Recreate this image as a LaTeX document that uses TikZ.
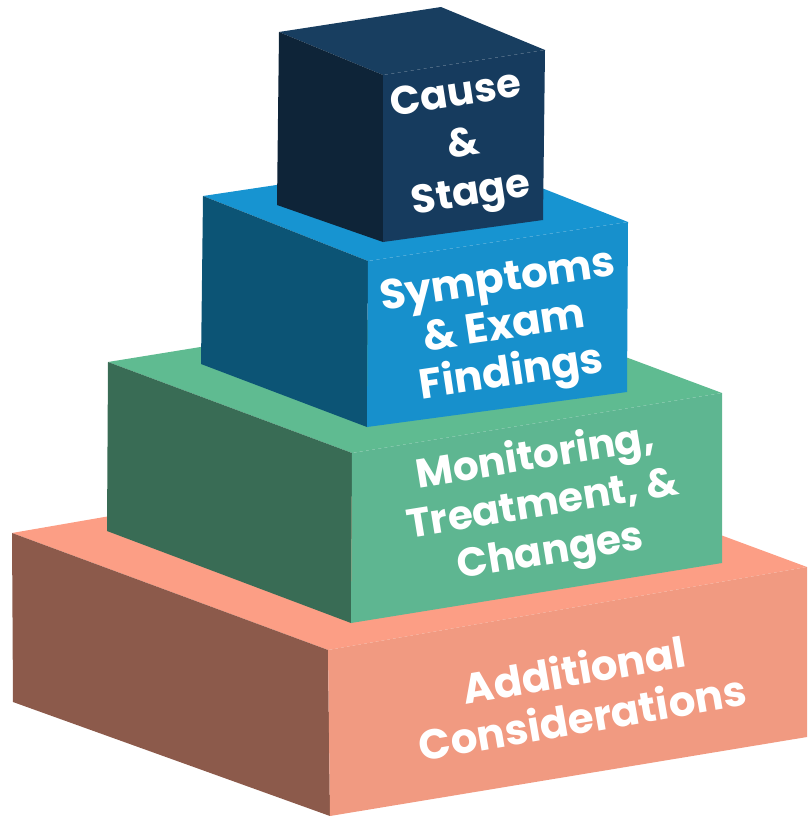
\documentclass[tikz,border=0pt]{standalone}
\usepackage{fontspec}
\setmainfont{Poppins}
\begin{document}
\begin{tikzpicture}[x=1pt,y=-1pt,
  lbl/.style={text=white,align=center,inner sep=0pt}]
\definecolor{salTop}{HTML}{FC9E85}
\definecolor{salFront}{HTML}{F19A81}
\definecolor{salLeft}{HTML}{8C5A4B}
\definecolor{grnTop}{HTML}{5FBB91}
\definecolor{grnFront}{HTML}{5EB691}
\definecolor{grnLeft}{HTML}{396C55}
\definecolor{bluTop}{HTML}{1794D1}
\definecolor{bluFront}{HTML}{1790CC}
\definecolor{bluLeft}{HTML}{0C5475}
\definecolor{navTop}{HTML}{183E60}
\definecolor{navFront}{HTML}{163B5E}
\definecolor{navLeft}{HTML}{0E2438}
\useasboundingbox (0,0) rectangle (807,816);
% base (salmon)
\fill[salTop] (12,533) -- (328,650) -- (807,567) -- (491,450) -- cycle;
\fill[salLeft] (12,533) -- (328,650) -- (330,816) -- (13,702) -- cycle;
\fill[salFront] (328,650) -- (807,567) -- (807,737) -- (330,816) -- cycle;
% green
\fill[grnTop] (108,362) -- (352,453) -- (722,393) -- (478,302) -- cycle;
\fill[grnLeft] (108,362) -- (352,453) -- (351,623) -- (107,531) -- cycle;
\fill[grnFront] (352,453) -- (722,393) -- (722,563) -- (351,623) -- cycle;
% blue
\fill[bluTop] (203,196) -- (368,261) -- (628,222) -- (463,157) -- cycle;
\fill[bluLeft] (203,196) -- (368,261) -- (367,427) -- (201,364) -- cycle;
\fill[bluFront] (368,261) -- (628,222) -- (627,392) -- (367,427) -- cycle;
% navy
\fill[navTop] (279,32) -- (383,75) -- (545,50) -- (441,7) -- cycle;
\fill[navLeft] (279,32) -- (383,75) -- (383,242) -- (277,205) -- cycle;
\fill[navFront] (383,75) -- (545,50) -- (543,220) -- (383,242) -- cycle;
% labels
\node[lbl,rotate=8.8,font=\fontsize{40}{50}\selectfont\bfseries] (t1) at (464,147) {Cause\\\&\\Stage};
\node[lbl,rotate=8.5,font=\fontsize{42}{47}\selectfont\bfseries] (t2) at (505,330) {Symptoms\\\& Exam\\Findings};
\node[lbl,rotate=9.2,font=\fontsize{40.5}{48}\selectfont\bfseries] (t3) at (543,506) {Monitoring,\\Treatment, \&\\Changes};
\node[lbl,rotate=9.8,font=\fontsize{42}{48}\selectfont\bfseries] (t4) at (578,693) {Additional\\Considerations};
\end{tikzpicture}
\end{document}
